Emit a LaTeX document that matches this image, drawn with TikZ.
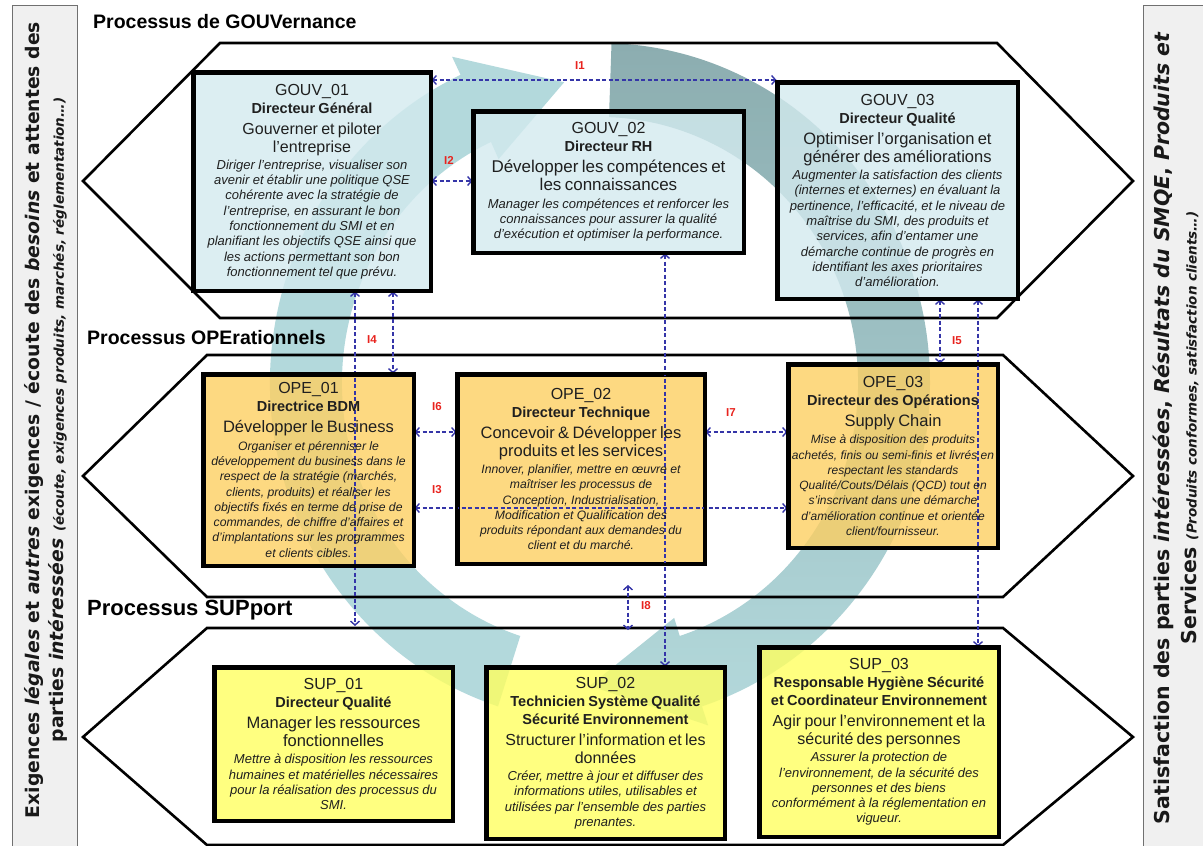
\documentclass[tikz,border=0pt]{standalone}
\usepackage{fontspec}
\setmainfont{Liberation Sans}
\newfontfamily\dvs{DejaVu Sans}
\usetikzlibrary{arrows.meta,calc}
\definecolor{gouvfill}{HTML}{D3EAEF}
\definecolor{opefill}{HTML}{FDCF62}
\definecolor{supfill}{HTML}{FFFF60}
\definecolor{ringlight}{HTML}{ADD6D9}
\definecolor{ringdark}{HTML}{82A6A9}
\definecolor{ifblue}{HTML}{3535A8}
\definecolor{ifred}{HTML}{E8231E}
\definecolor{barfill}{HTML}{F0F0F0}
\definecolor{barline}{HTML}{707070}
\newcommand{\bx}[6]{%
{\fontsize{16}{18}\selectfont #1\par}%
{\bfseries\fontsize{14.5}{18}\selectfont #2\par}%
\vspace{3pt}%
{\fontsize{#5}{18}\selectfont #3\par}%
\vspace{2pt}%
{\itshape\fontsize{#6}{15.3}\selectfont #4\par}}
\begin{document}
\begin{tikzpicture}[x=1pt,y=-1pt,
  hexa/.style={draw=black, line width=2.6pt, line join=miter},
  bxg/.style={draw=black, line width=3pt, fill=gouvfill, fill opacity=0.8, inner sep=0pt},
  bxo/.style={bxg, fill=opefill},
  bxs/.style={bxg, fill=supfill},
  btxt/.style={text width=270pt, align=center, inner sep=0pt, text=black!88},
  iface/.style={draw=ifblue, line width=1.4pt, dash pattern=on 4pt off 2.5pt,
     {Straight Barb[length=4pt,width=9pt]}-{Straight Barb[length=4pt,width=9pt]}},
  ilab/.style={text=ifred, font=\bfseries\fontsize{11.5}{11.5}\selectfont, inner sep=1pt},
  ttl/.style={font=\bfseries\fontsize{19.5}{22}\selectfont, anchor=west, inner sep=0pt},
  sidetxt/.style={rotate=90, align=center, inner sep=0pt, text=black!90}
]
\useasboundingbox (0,0) rectangle (1203,846);
\coordinate (C) at (600,383);

% side bars
\draw[draw=barline, fill=barfill, line width=0.8pt] (12,5) rectangle (77,860);
\draw[draw=barline, fill=barfill, line width=0.8pt] (1143,5) rectangle (1220,860);
\node[sidetxt, font=\dvs\bfseries\fontsize{18.8}{24.5}\selectfont] (lbar) at (46,420)
  {Exigences \textit{légales} et \textit{autres} exigences / écoute des \textit{besoins} et attentes des\\
   parties \textit{intéressées} {\itshape\fontsize{13.5}{24.5}\selectfont (écoute, exigences produits, marchés, réglementation…)}};
\node[sidetxt, font=\dvs\bfseries\fontsize{20.5}{27}\selectfont] (rbar) at (1176,428)
  {Satisfaction des parties \textit{intéressées}, \textit{Résultats du SMQE}, \textit{Produits et}\\
   Services {\itshape\fontsize{13.5}{27}\selectfont (Produits conformes, satisfaction clients…)}};

% ring
\fill[ringlight, opacity=0.92] ($(C)+(-252:330 and 340)$) arc[start angle=-252, end angle=-115, x radius=330, y radius=340]
  -- ($(C)+(-115:350 and 360)$) -- ($(C)+(-97:294 and 303)$) -- ($(C)+(-115:240 and 247)$)
  -- ($(C)+(-115:258 and 266)$) arc[start angle=-115, end angle=-252, x radius=258, y radius=266] -- cycle;
\shade[top color=ringdark, bottom color=ringlight, opacity=0.92] ($(C)+(-88:330 and 340)$) arc[start angle=-88, end angle=72, x radius=330, y radius=340]
  -- ($(C)+(72:350 and 360)$) -- ($(C)+(92:294 and 303)$) -- ($(C)+(72:240 and 247)$)
  -- ($(C)+(72:258 and 266)$) arc[start angle=72, end angle=-88, x radius=258, y radius=266] -- cycle;

% hexagons
\draw[hexa] (220,43) -- (997,43) -- (1133,181) -- (997,318) -- (220,318) -- (83,181) -- cycle;
\draw[hexa] (207,355) -- (1003,355) -- (1133,476) -- (1003,597) -- (207,597) -- (83,476) -- cycle;
\draw[hexa] (207,628) -- (1003,628) -- (1133,737) -- (1003,845) -- (207,845) -- (83,737) -- cycle;

% titles
\node[ttl] (tg) at (93,22) {Processus de GOUVernance};
\node[ttl] (to) at (87,338) {Processus OPErationnels};
\node[ttl, font=\bfseries\fontsize{22}{24}\selectfont] (ts) at (87,610) {Processus SUPport};

% boxes (shapes)
\node[bxg, minimum width=236pt, minimum height=217pt] (g1) at (312,181.5) {};
\node[bxg, minimum width=269pt, minimum height=140pt] (g2) at (608.5,182) {};
\node[bxg, minimum width=239pt, minimum height=215pt] (g3) at (897.5,190.5) {};
\node[bxo, minimum width=209pt, minimum height=190pt] (o1) at (308.5,470) {};
\node[bxo, minimum width=246pt, minimum height=188pt] (o2) at (581,469) {};
\node[bxo, minimum width=208pt, minimum height=182pt] (o3) at (893,456) {};
\node[bxs, minimum width=237pt, minimum height=152pt] (s1) at (333.5,744) {};
\node[bxs, minimum width=237pt, minimum height=170pt] (s2) at (605.5,753) {};
\node[bxs, minimum width=238pt, minimum height=188pt] (s3) at (879,742) {};

% interfaces
\coordinate (e4) at (355,626);
\coordinate (i8a) at (628,585);
\coordinate (i8b) at (628,630);
\draw[iface] (g1.east |- 0,80) -- (g3.west |- 0,80);
\draw[iface] (g1.east |- 0,181) -- (g2.west |- 0,181);
\draw[iface] (g1.south -| 355,0) -- (e4);
\draw[iface] (g1.south -| 393,0) -- (o1.north -| 393,0);
\draw[iface] (g2.south -| 665,0) -- (s2.north -| 665,0);
\draw[iface] (o1.east |- 0,432) -- (o2.west |- 0,432);
\draw[iface] (o1.east |- 0,508) -- (o3.west |- 0,508);
\draw[iface] (o2.east |- 0,432) -- (o3.west |- 0,432);
\draw[iface] (i8a) -- (i8b);
\draw[iface] (g3.south -| 940,0) -- (o3.north -| 940,0);
\draw[iface] (g3.south -| 978,0) -- (s3.north -| 978,0);
\node[ilab] (l1) at (580,66) {I1};
\node[ilab] (l2) at (449,160) {I2};
\node[ilab] (l4) at (372,340) {I4};
\node[ilab] (l5) at (957,341) {I5};
\node[ilab] (l6) at (437,407) {I6};
\node[ilab] (l7) at (731,413) {I7};
\node[ilab] (l3) at (437,490) {I3};
\node[ilab] (l8) at (646,606) {I8};

% box borders above the connectors (fill stays translucent)
\foreach \n in {g1,g2,g3,o1,o2,o3,s1,s2,s3} {\draw[line width=3pt] (\n.north west) rectangle (\n.south east);}

% box texts
\node[btxt] (g1t) at (g1.center) {\bx{GOUV\_01}{Directeur Général}{Gouverner et piloter\\l’entreprise}{Diriger l’entreprise, visualiser son\\avenir et établir une politique QSE\\cohérente avec la stratégie de\\l’entreprise, en assurant le bon\\fonctionnement du SMI et en\\planifiant les objectifs QSE ainsi que\\les actions permettant son bon\\fonctionnement tel que prévu.}{16}{13}};
\node[btxt] (g2t) at (g2.center) {\bx{GOUV\_02}{Directeur RH}{Développer les compétences et\\les connaissances}{Manager les compétences et renforcer les\\connaissances pour assurer la qualité\\d’exécution et optimiser la performance.}{17}{13}};
\node[btxt] (g3t) at (g3.center) {\bx{GOUV\_03}{Directeur Qualité}{Optimiser l’organisation et\\générer des améliorations}{Augmenter la satisfaction des clients\\(internes et externes) en évaluant la\\pertinence, l’efficacité, et le niveau de\\maîtrise du SMI, des produits et\\services, afin d’entamer une\\démarche continue de progrès en\\identifiant les axes prioritaires\\d’amélioration.}{16.5}{13}};
\node[btxt] (o1t) at (o1.center) {\bx{OPE\_01}{Directrice BDM}{Développer le Business}{Organiser et pérenniser le\\développement du business dans le\\respect de la stratégie (marchés,\\clients, produits) et réaliser les\\objectifs fixés en terme de prise de\\commandes, de chiffre d’affaires et\\d’implantations sur les programmes\\et clients cibles.}{16.5}{12.2}};
\node[btxt] (o2t) at (o2.center) {\bx{OPE\_02}{Directeur Technique}{Concevoir \& Développer les\\produits et les services}{Innover, planifier, mettre en œuvre et\\maîtriser les processus de\\Conception, Industrialisation,\\Modification et Qualification des\\produits répondant aux demandes du\\client et du marché.}{16.5}{12.2}};
\node[btxt] (o3t) at (o3.center) {\bx{OPE\_03}{Directeur des Opérations}{Supply Chain}{Mise à disposition des produits\\achetés, finis ou semi-finis et livrés en\\respectant les standards\\Qualité/Couts/Délais (QCD) tout en\\s’inscrivant dans une démarche\\d’amélioration continue et orientée\\client/fournisseur.}{16.5}{12}};
\node[btxt] (s1t) at (s1.center) {\bx{SUP\_01}{Directeur Qualité}{Manager les ressources\\fonctionnelles}{Mettre à disposition les ressources\\humaines et matérielles nécessaires\\pour la réalisation des processus du\\SMI.}{16.5}{13}};
\node[btxt] (s2t) at (s2.center) {\bx{SUP\_02}{Technicien Système Qualité\\Sécurité Environnement}{Structurer l’information et les\\données}{Créer, mettre à jour et diffuser des\\informations utiles, utilisables et\\utilisées par l’ensemble des parties\\prenantes.}{16}{13}};
\node[btxt] (s3t) at (s3.center) {\bx{SUP\_03}{Responsable Hygiène Sécurité\\et Coordinateur Environnement}{Agir pour l'environnement et la\\sécurité des personnes}{Assurer la protection de\\l'environnement, de la sécurité des\\personnes et des biens\\conformément à la réglementation en\\vigueur.}{16}{13}};
\end{tikzpicture}
\end{document}
